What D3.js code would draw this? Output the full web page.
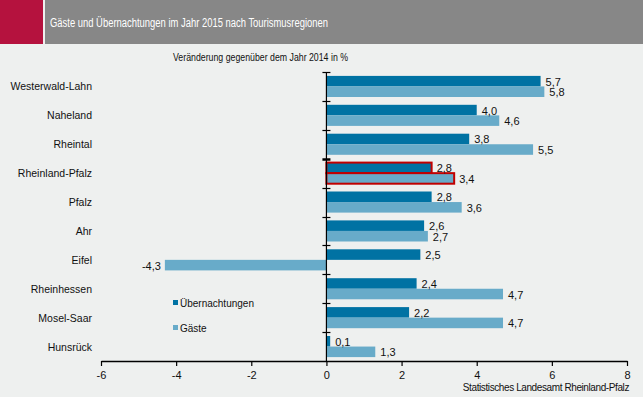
<!DOCTYPE html>
<html>
<head>
<meta charset="utf-8">
<script src="https://cdn.jsdelivr.net/npm/d3@7"></script>
<style>
  body { margin: 0; background: #eef0ef; }
  svg { display: block; font-family: "Liberation Sans", Arial, sans-serif; }
</style>
</head>
<body>
<div id="chart"></div>
<script>
const regions = ["Westerwald-Lahn", "Naheland", "Rheintal", "Rheinland-Pfalz", "Pfalz",
  "Ahr", "Eifel", "Rheinhessen", "Mosel-Saar", "Hunsrück"]
const uebernachtungen = [5.7, 4.0, 3.8, 2.8, 2.8, 2.6, 2.5, 2.4, 2.2, 0.1]
const gaeste = [5.8, 4.6, 5.5, 3.4, 3.6, 2.7, -4.3, 4.7, 4.7, 1.3]
const xTicks = [-6, -4, -2, 0, 2, 4, 6, 8]
const seriesNames = ["Übernachtungen", "Gäste"]
const highlight = "Rheinland-Pfalz"

let W = 643, H = 397
let margin = { top: 72, right: 16, bottom: 36, left: 101 },
  width = W - margin.left - margin.right,
  height = H - margin.top - margin.bottom

let colors = ["#0072a3", "#68abc9"]
let fmt = v => d3.format(".1f")(v).replace(".", ",").replace("\u2212", "-")

let svg = d3.select("#chart")
  .append("svg")
  .attr("width", W)
  .attr("height", H)

// header
svg.append("rect").attr("width", W).attr("height", H).attr("fill", "#eef0ef")
svg.append("rect").attr("x", 0).attr("y", 0).attr("width", 43).attr("height", 44).attr("fill", "#b5123e")
svg.append("rect").attr("x", 45).attr("y", 0).attr("width", W - 45).attr("height", 44).attr("fill", "#878787")
svg.append("text")
  .attr("x", 50).attr("y", 27)
  .attr("fill", "#fff")
  .style("font-size", "12.5px")
  .attr("textLength", 278)
  .attr("lengthAdjust", "spacingAndGlyphs")
  .text("Gäste und Übernachtungen im Jahr 2015 nach Tourismusregionen")

svg.append("text")
  .attr("x", 173).attr("y", 61)
  .attr("fill", "#111")
  .style("font-size", "11px")
  .attr("textLength", 175)
  .attr("lengthAdjust", "spacingAndGlyphs")
  .text("Veränderung gegenüber dem Jahr 2014 in %")

let g = svg.append("g").attr("transform", "translate(" + margin.left + "," + margin.top + ")")

let x = d3.scaleLinear().domain([-6, 8]).range([0, width])
let y = d3.scaleBand().domain(regions).range([0, height]).paddingInner(0.27).paddingOuter(0.135)
let ySub = d3.scaleBand().domain(seriesNames).range([0, y.bandwidth()])

let rows = regions.map((r, i) => ({ region: r, values: [uebernachtungen[i], gaeste[i]] }))

// bars
let grp = g.selectAll(".grp")
  .data(rows)
  .enter()
  .append("g")
  .attr("transform", d => "translate(0," + y(d.region) + ")")

grp.selectAll("rect")
  .data(d => d.values.map((v, k) => ({ v: v, k: k, region: d.region })))
  .enter()
  .append("rect")
  .attr("x", d => x(Math.min(0, d.v)))
  .attr("y", d => ySub(seriesNames[d.k]))
  .attr("width", d => Math.abs(x(d.v) - x(0)))
  .attr("height", ySub.bandwidth())
  .attr("fill", d => colors[d.k])
  .attr("stroke", d => d.region == highlight ? "#c00000" : "none")
  .attr("stroke-width", 2)

grp.selectAll("text")
  .data(d => d.values.map((v, k) => ({ v: v, k: k })))
  .enter()
  .append("text")
  .attr("x", d => d.v < 0 ? x(d.v) - 4 : x(d.v) + 5)
  .attr("y", d => ySub(seriesNames[d.k]) + ySub.bandwidth() / 2 + 4.5)
  .attr("text-anchor", d => d.v < 0 ? "end" : "start")
  .attr("fill", "#111")
  .style("font-size", "11px")
  .text(d => fmt(d.v))

// x axis
let xAxis = g.append("g")
  .attr("transform", "translate(0," + height + ")")
  .call(d3.axisBottom(x).tickValues(xTicks).tickSize(5).tickSizeOuter(0).tickFormat(d => d < 0 ? "-" + Math.abs(d) : d))
xAxis.select(".domain").attr("stroke", "#000").attr("stroke-width", 1.4)
xAxis.selectAll(".tick line").attr("stroke", "#000").attr("stroke-width", 1.2)
xAxis.selectAll("text").attr("fill", "#111").style("font-size", "11px").attr("dy", "0.9em")

// y axis at zero
let yAxis = g.append("g").attr("transform", "translate(" + x(0) + ",0)")
yAxis.append("line").attr("y1", 0).attr("y2", height).attr("stroke", "#000").attr("stroke-width", 1.2)
let step = y.step()
yAxis.selectAll(".yt")
  .data(d3.range(regions.length))
  .enter()
  .append("line")
  .attr("x1", -4).attr("x2", 4)
  .attr("y1", i => Math.round(y(regions[i]) - y.paddingInner() * step / 2) + 0.5)
  .attr("y2", i => Math.round(y(regions[i]) - y.paddingInner() * step / 2) + 0.5)
  .attr("stroke", "#000")
  .attr("stroke-width", i => regions[i] == highlight ? 2.5 : 1.2)

// category labels
g.selectAll(".cat")
  .data(regions)
  .enter()
  .append("text")
  .attr("x", 92 - margin.left)
  .attr("y", d => y(d) + y.bandwidth() / 2 + 4)
  .attr("text-anchor", "end")
  .attr("fill", "#111")
  .style("font-size", "10.5px")
  .text(d => d)

// legend
let leg = svg.append("g").attr("transform", "translate(173,300)")
seriesNames.forEach((s, k) => {
  leg.append("rect").attr("x", 0).attr("y", k * 25).attr("width", 5).attr("height", 5).attr("fill", colors[k])
  leg.append("text").attr("x", 7).attr("y", k * 25 + 6.5)
    .attr("fill", "#111").style("font-size", "10px").text(s)
})

svg.append("text")
  .attr("x", 629).attr("y", 391)
  .attr("text-anchor", "end")
  .attr("fill", "#111")
  .style("font-size", "10px")
  .style("letter-spacing", "-0.4px")
  .text("Statistisches Landesamt Rheinland-Pfalz")
</script>
</body>
</html>
